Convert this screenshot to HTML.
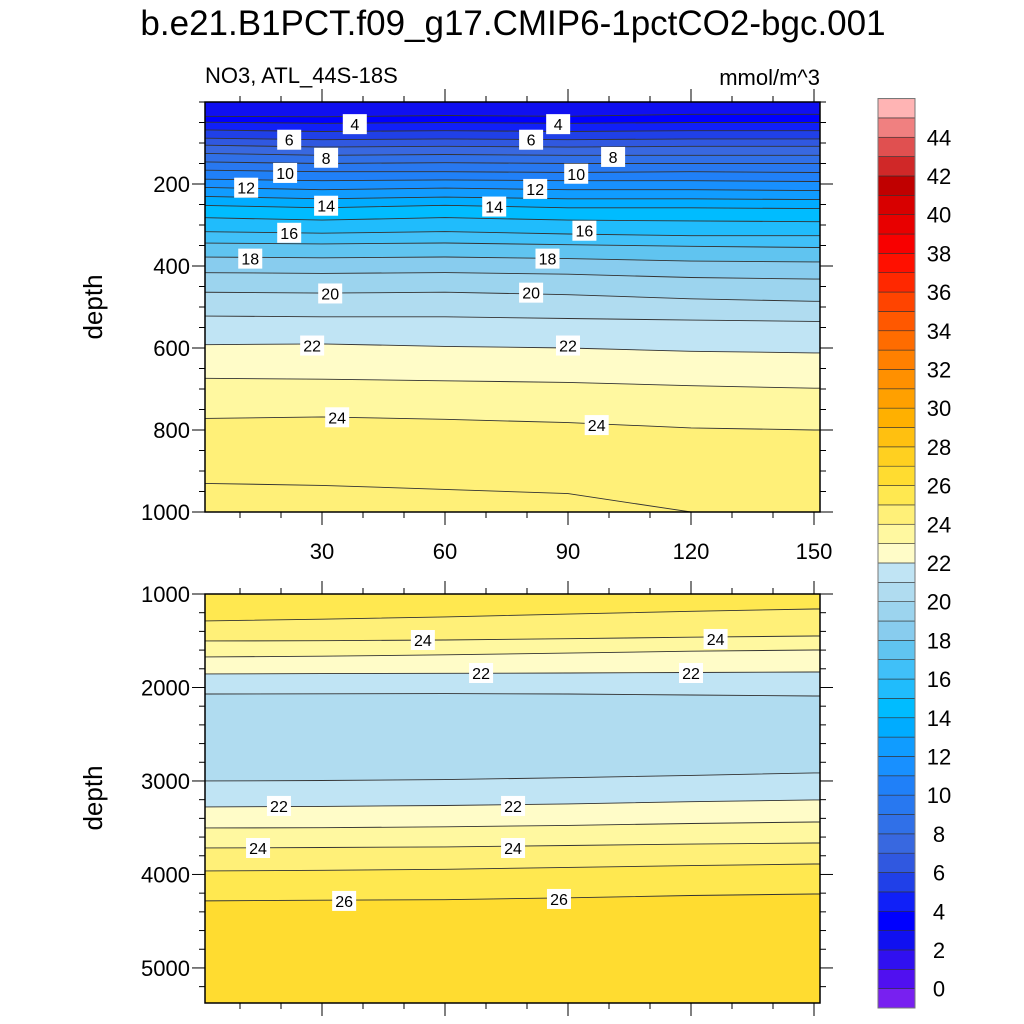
<!DOCTYPE html>
<html><head><meta charset="utf-8">
<style>
body{margin:0;background:#fff;}
svg{display:block;font-family:"Liberation Sans",sans-serif;}
</style></head>
<body>
<svg id="chart" width="1024" height="1024" viewBox="0 0 1024 1024">
<text x="513" y="35" text-anchor="middle" font-size="35">b.e21.B1PCT.f09_g17.CMIP6-1pctCO2-bgc.001</text>
<text x="205" y="83" font-size="22">NO3, ATL_44S-18S</text>
<text x="820" y="85" font-size="22" text-anchor="end">mmol/m^3</text>
<text transform="translate(102,307) rotate(-90)" text-anchor="middle" font-size="26">depth</text>
<text transform="translate(102,798) rotate(-90)" text-anchor="middle" font-size="26">depth</text>
<g id="top"></g>
<g id="bot"></g>
<g id="cbar"></g>
</svg>
<script>
// ---- data ----
const cbColors = ["#7820F0","#5010F0","#3010F0","#1010F0","#0000FF","#1020F8","#2040E8","#3058E0","#3868E0","#3070E8","#2878F0","#2080F8","#1890FF","#109CFF","#00ACFF","#00BCFF","#20BCFC","#40C0F8","#60C4F0","#88CCEE","#9CD4EE","#B0DCF0","#C0E4F4","#FFFCC8","#FFF8A0","#FFF078","#FFE850","#FFDC30","#FFD020","#FFC010","#FFB000","#FFA000","#FF9000","#FF8000","#FF6C00","#FF5800","#FF4400","#FF2800","#FF1000","#F80000","#E80000","#D80000","#C00000","#D02828","#E05050","#F08080","#FFB4B4"];
const cbMin = -1;
const cbLabels = [0,2,4,6,8,10,12,14,16,18,20,22,24,26,28,30,32,34,36,38,40,42,44];
const xs = [0,30,60,90,120,150];
const xTicks = [30,60,90,120,150];
const topLevels = [25,24,23,22,21,20,19,18,17,16,15,14,13,12,11,10,9,8,7,6,5,4,3];
const topDepths = [
 [930,935,945,955,1000,1010],
 [772,768,774,782,795,800],
 [674,676,680,684,692,698],
 [592,590,596,600,608,612],
 [522,524,524,528,532,535],
 [464,466,464,470,480,486],
 [416,418,416,420,428,432],
 [378,380,378,382,388,390],
 [344,346,344,348,352,355],
 [316,320,316,322,326,326],
 [282,288,282,288,290,292],
 [252,258,252,258,258,260],
 [230,236,232,236,236,238],
 [208,214,210,214,214,216],
 [188,192,190,192,192,194],
 [166,170,170,172,170,172],
 [146,150,148,150,150,150],
 [125,130,128,130,130,130],
 [105,110,108,110,108,108],
 [88,92,90,92,90,90],
 [68,72,70,72,70,70],
 [49,52,50,52,50,50],
 [35,36,33,35,30,30]];
const topBelowLevel = 25;
const topLabelVals = [4,4,6,6,8,8,10,10,12,12,14,14,16,16,18,18,20,20,22,22,24,24];
const topLabelX = [38,87.6,22,81,31,101,21,92,11.5,82,31,72,22,94,12.5,85,32,81,27.6,90,33.7,97];
const topLabelD = [54,54,92,92,136,134,173,175,209,212,253,255,319,314,382,382,467,465,594,594,769,788];
const topYTicks = [200,400,600,800,1000];
const botLevels = [26,25,24,23,22,21,21,22,23,24,25];
const botAbove = [25,24,23,22,21,20,21,22,23,24,25];
const botDepths = [
 [4283,4275,4270,4250,4225,4209],
 [3963,3955,3945,3925,3905,3888],
 [3717,3712,3705,3690,3675,3663],
 [3503,3500,3490,3475,3455,3439],
 [3278,3272,3262,3245,3222,3203],
 [3000,2995,2985,2965,2940,2914],
 [2070,2068,2065,2070,2080,2091],
 [1856,1852,1848,1845,1840,1834],
 [1674,1665,1650,1632,1612,1599],
 [1503,1500,1492,1478,1462,1449],
 [1289,1270,1245,1215,1185,1160]];
const botBase = 26;
const botLabelVals = [24,24,22,22,22,22,24,24,26,26];
const botLabelX = [54.6,126,68.8,120,19.5,76.6,14.4,76.6,35.4,87.8];
const botLabelD = [1492,1481,1845,1845,3267,3267,3717,3717,4283,4262];
const botYTicks = [1000,2000,3000,4000,5000];

// ---- helpers ----
const NS="http://www.w3.org/2000/svg";
function mk(tag,attrs,parent){const e=document.createElementNS(NS,tag);for(const k in attrs)e.setAttribute(k,attrs[k]);parent.appendChild(e);return e;}
const L=205,R=820;
const xScale=v=>199+v*4.1;
function col(level){return cbColors[level-cbMin];}

function drawPanel(g,top,bot,d0,d1,baseColor,contours,aboveCols,lbls,yTicks,minorStep,showXLabels,prefix){
  const yS=d=>top+(d-d0)/(d1-d0)*(bot-top);
  const clip=mk('clipPath',{id:'clip'+prefix},g);
  mk('rect',{x:L,y:top,width:R-L,height:bot-top},clip);
  const bg=mk('rect',{x:L,y:top,width:R-L,height:bot-top,fill:baseColor},g);
  
  
  const cg=mk('g',{'clip-path':'url(#clip'+prefix+')'},g);
  const linePath=dep=>{
    const n=xs.length;
    let pts=xs.map((x,j)=>`${xScale(x).toFixed(1)},${yS(dep[j]).toFixed(1)}`);
    return `M${L-5},${yS(dep[0]).toFixed(1)} L`+pts.join(' L')+` L${R+5},${yS(dep[n-1]).toFixed(1)}`;
  };
  contours.forEach((dep,i)=>{
    const f=mk('path',{d:linePath(dep)+` L${R+5},${top-5} L${L-5},${top-5} Z`,fill:aboveCols[i],stroke:'none'},cg);
    
    
  });
  contours.forEach((dep,i)=>{
    const c=mk('path',{d:linePath(dep),fill:'none',stroke:'#333',"stroke-width":0.9},cg);
    
    
  });
  lbls.vals.forEach((v,i)=>{
    const cx=xScale(lbls.x[i]),cy=yS(lbls.d[i]);
    const r=mk('rect',{x:cx-12,y:cy-10,width:24,height:20,fill:'#fff'},cg);
    
    
    const t=mk('text',{x:cx,y:cy+6,'text-anchor':'middle','font-size':16},cg);
    t.textContent=v;
    
    
  });
  const fr=mk('rect',{x:L,y:top,width:R-L,height:bot-top,fill:'none',stroke:'#000','stroke-width':1.5},g);
  
  
  for(let d=Math.ceil(d0/minorStep)*minorStep; d<=d1; d+=minorStep){
    const y=yS(d); const major=yTicks.includes(d); const len=major?13:6;
    mk('line',{x1:L-len,x2:L,y1:y,y2:y,stroke:'#000','stroke-width':1},g);
    mk('line',{x1:R,x2:R+len,y1:y,y2:y,stroke:'#000','stroke-width':1},g);
    if(major){const t=mk('text',{x:L-15,y:y+8,'text-anchor':'end','font-size':22},g);t.textContent=d;
      
      }
  }
  for(let v=10; v<=150; v+=10){
    const x=xScale(v); const major=xTicks.includes(v); const len=major?13:6;
    mk('line',{x1:x,x2:x,y1:top-len,y2:top,stroke:'#000','stroke-width':1},g);
    mk('line',{x1:x,x2:x,y1:bot,y2:bot+len,stroke:'#000','stroke-width':1},g);
    if(major&&showXLabels){const t=mk('text',{x:x,y:bot+47,'text-anchor':'middle','font-size':22},g);t.textContent=v;
      
      }
  }
}
drawPanel(document.getElementById('top'),102,512,0,1000,col(topBelowLevel-1),topDepths,topLevels.map(l=>col(l-1)),
  {vals:topLabelVals,x:topLabelX,d:topLabelD},topYTicks,50,true,'top');
drawPanel(document.getElementById('bot'),594,1003,1000,5375,col(botBase),botDepths,botAbove.map(l=>col(l)),
  {vals:botLabelVals,x:botLabelX,d:botLabelD},botYTicks,200,false,'bottom');
const cb=document.getElementById('cbar');
const cbBottom=1008, cbStep=19.35, cbX=878, cbW=37;
cbColors.forEach((c,i)=>{
  const y=cbBottom-(i+1)*cbStep;
  const r=mk('rect',{x:cbX,y:y,width:cbW,height:cbStep,fill:c,stroke:'#333','stroke-width':0.6},cb);
  
  
});
mk('rect',{x:cbX,y:cbBottom-cbColors.length*cbStep,width:cbW,height:cbColors.length*cbStep,fill:'none',stroke:'#777','stroke-width':1},cb);
cbLabels.forEach(v=>{
  const y=cbBottom-(v-cbMin)*cbStep;
  const t=mk('text',{x:939,y:y+8,'text-anchor':'middle','font-size':22},cb);
  t.textContent=v;
  
  
});
</script>
</body></html>
